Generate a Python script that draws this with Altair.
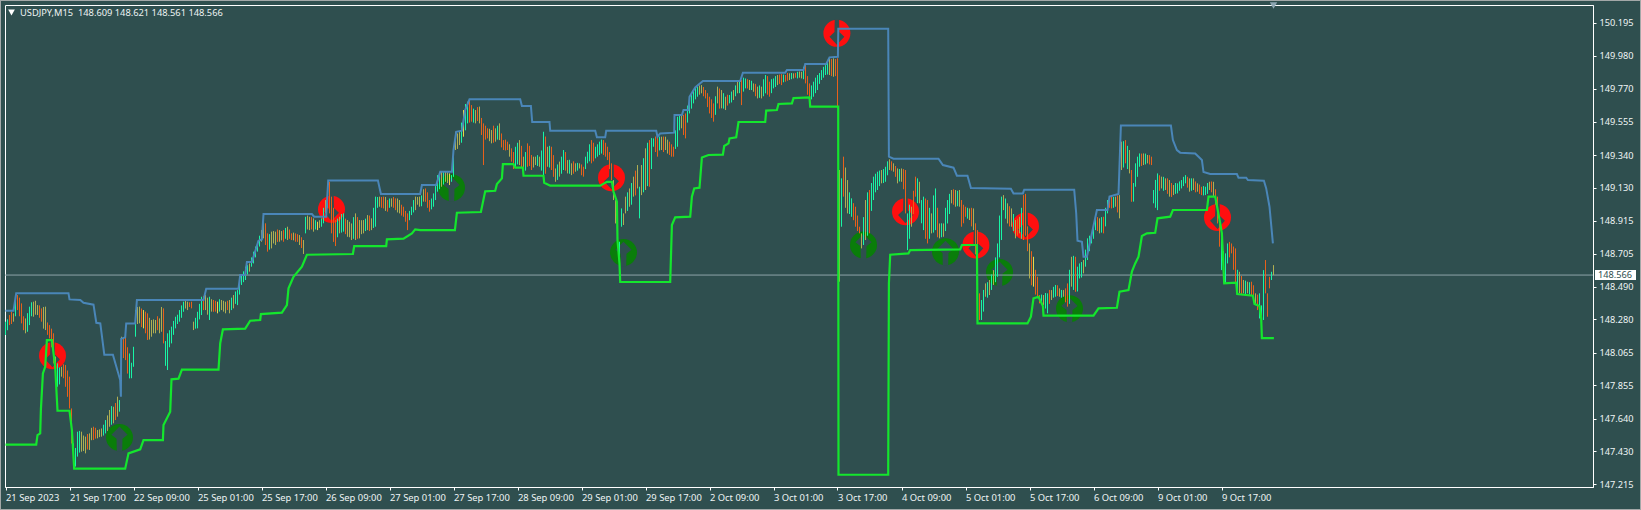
import altair as alt
import pandas as pd

BG = "#2f4f4f"

time_ticks = [0, 32, 64, 96, 128, 160, 192, 224, 256, 288, 320, 352, 384, 416, 448, 480, 512, 544, 576, 608]
time_labels = ["21 Sep 2023", "21 Sep 17:00", "22 Sep 09:00", "25 Sep 01:00", "25 Sep 17:00", "26 Sep 09:00",
               "27 Sep 01:00", "27 Sep 17:00", "28 Sep 09:00", "29 Sep 01:00", "29 Sep 17:00", "2 Oct 09:00",
               "3 Oct 01:00", "3 Oct 17:00", "4 Oct 09:00", "5 Oct 01:00", "5 Oct 17:00", "6 Oct 09:00",
               "9 Oct 01:00", "9 Oct 17:00"]
price_ticks = [150.195, 149.98, 149.77, 149.555, 149.34, 149.13, 148.915, 148.705, 148.49, 148.28,
               148.065, 147.855, 147.64, 147.43, 147.215]
last_price = 148.566

bar_index = [
    0, 2, 4, 6, 8, 10, 12, 14, 16, 18,
    20, 22, 24, 26, 28, 30, 32, 33, 34, 36,
    38, 40, 42, 44, 46, 48, 50, 52, 54, 56,
    57, 58, 60, 62, 64, 65, 67, 69, 71, 73,
    75, 77, 79, 81, 83, 85, 87, 89, 91, 93,
    94, 96, 98, 100, 102, 104, 106, 108, 110, 112,
    114, 116, 118, 120, 122, 124, 126, 128, 129, 131,
    133, 135, 137, 139, 141, 143, 145, 147, 149, 150,
    152, 154, 156, 158, 160, 162, 163, 165, 167, 169,
    171, 173, 175, 177, 179, 181, 183, 185, 187, 189,
    191, 193, 195, 197, 199, 201, 203, 205, 207, 210,
    212, 214, 216, 218, 220, 222, 223, 225, 227, 229,
    231, 233, 235, 237, 239, 241, 243, 245, 247, 249,
    251, 253, 255, 257, 259, 261, 263, 265, 267, 269,
    271, 273, 275, 277, 279, 281, 283, 285, 287, 289,
    291, 293, 295, 297, 299, 301, 303, 304, 305, 306,
    307, 308, 309, 310, 312, 314, 316, 317, 318, 320,
    322, 324, 326, 328, 330, 332, 334, 336, 338, 340,
    342, 344, 346, 348, 350, 352, 354, 356, 358, 360,
    362, 364, 366, 368, 370, 372, 374, 376, 378, 380,
    382, 384, 386, 388, 390, 392, 394, 396, 398, 400,
    402, 404, 406, 408, 410, 412, 414, 416, 417, 418,
    419, 421, 423, 425, 427, 428, 430, 432, 434, 436,
    438, 440, 442, 444, 446, 448, 450, 451, 453, 455,
    457, 459, 461, 463, 465, 467, 469, 471, 473, 475,
    477, 478, 480, 482, 484, 486, 487, 488, 490, 492,
    494, 496, 498, 499, 501, 503, 505, 507, 509, 512,
    514, 516, 517, 519, 521, 523, 525, 527, 529, 531,
    533, 535, 537, 539, 541, 543, 545, 547, 549, 551,
    553, 555, 557, 558, 560, 562, 563, 565, 567, 569,
    571, 573, 574, 576, 578, 580, 582, 584, 586, 588,
    590, 592, 594, 596, 598, 600, 602, 604, 606, 607,
    608, 610, 611, 613, 615, 617, 619, 621, 623, 625,
    627, 629, 630, 631, 632, 633, 634,
]
bar_high = [
    148.265, 148.308, 148.319, 148.437, 148.383, 148.286, 148.362, 148.394, 148.372, 148.351,
    148.362, 148.243, 148.19, 147.996, 147.974, 147.985, 147.91, 147.705, 147.479, 147.555,
    147.555, 147.523, 147.544, 147.587, 147.566, 147.576, 147.63, 147.695, 147.716, 147.781,
    147.759, 148.168, 148.168, 148.06, 148.103, 148.34, 148.362, 148.34, 148.319, 148.276,
    148.276, 148.286, 148.351, 148.19, 148.233, 148.297, 148.34, 148.394, 148.394, 148.394,
    148.265, 148.329, 148.426, 148.437, 148.426, 148.405, 148.394, 148.405, 148.394, 148.405,
    148.437, 148.469, 148.566, 148.62, 148.641, 148.717, 148.781, 148.856, 148.932, 148.835,
    148.846, 148.846, 148.856, 148.856, 148.878, 148.835, 148.835, 148.824, 148.792, 148.942,
    148.942, 148.932, 148.91, 148.932, 149.05, 149.168, 149.072, 148.921, 148.942, 148.964,
    148.921, 148.899, 148.964, 148.921, 148.921, 148.953, 148.932, 149.072, 149.072, 149.072,
    149.05, 149.061, 149.061, 149.05, 149.007, 148.964, 149.007, 149.072, 149.072, 149.125,
    149.05, 149.093, 149.211, 149.233, 149.233, 149.222, 149.211, 149.491, 149.491, 149.631,
    149.685, 149.663, 149.631, 149.653, 149.545, 149.513, 149.502, 149.513, 149.545, 149.437,
    149.427, 149.384, 149.394, 149.437, 149.33, 149.416, 149.341, 149.33, 149.33, 149.491,
    149.394, 149.394, 149.254, 149.298, 149.373, 149.308, 149.287, 149.287, 149.287, 149.265,
    149.362, 149.437, 149.394, 149.427, 149.437, 149.394, 149.287, 149.179, 149.05, 148.899,
    148.781, 148.996, 148.964, 149.072, 149.125, 149.201, 149.276, 149.136, 149.276, 149.384,
    149.437, 149.448, 149.469, 149.459, 149.459, 149.427, 149.394, 149.588, 149.599, 149.609,
    149.696, 149.76, 149.782, 149.792, 149.76, 149.717, 149.674, 149.782, 149.76, 149.717,
    149.728, 149.76, 149.814, 149.825, 149.835, 149.825, 149.803, 149.782, 149.782, 149.857,
    149.814, 149.835, 149.857, 149.863, 149.857, 149.868, 149.868, 149.878, 149.878, 149.921,
    149.803, 149.814, 149.857, 149.889, 149.921, 149.965, 149.965, 149.965, 149.244, 149.19,
    149.33, 149.179, 149.061, 149.007, 148.878, 148.835, 149.05, 149.115, 149.201, 149.233,
    149.244, 149.265, 149.313, 149.287, 149.254, 149.254, 149.244, 148.964, 149.007, 149.201,
    149.168, 149.072, 149.05, 148.964, 149.125, 148.899, 148.899, 149.05, 149.115, 149.115,
    149.115, 149.05, 149.007, 148.996, 148.996, 148.856, 148.448, 148.405, 148.512, 148.534,
    148.598, 148.77, 149.072, 149.082, 149.029, 148.996, 148.921, 148.942, 149.082, 148.77,
    148.684, 148.555, 148.437, 148.437, 148.448, 148.469, 148.502, 148.48, 148.469, 148.512,
    148.684, 148.684, 148.641, 148.663, 148.803, 148.835, 148.942, 148.932, 148.942, 149.05,
    149.072, 149.072, 149.082, 149.427, 149.437, 149.373, 149.244, 149.287, 149.351, 149.351,
    149.341, 149.33, 149.115, 149.222, 149.201, 149.19, 149.179, 149.147, 149.158, 149.179,
    149.211, 149.19, 149.19, 149.158, 149.136, 149.136, 149.168, 149.168, 149.072, 148.899,
    148.835, 148.706, 148.77, 148.77, 148.738, 148.587, 148.534, 148.523, 148.523, 148.448,
    148.448, 148.598, 148.663, 148.448, 148.555, 148.587, 148.63,
]
bar_low = [
    148.179, 148.243, 148.265, 148.340, 148.254, 148.19, 148.243, 148.297, 148.308, 148.265,
    148.211, 148.157, 147.996, 147.845, 147.91, 147.845, 147.705, 147.479, 147.318, 147.394,
    147.426, 147.415, 147.437, 147.501, 147.512, 147.523, 147.544, 147.587, 147.609, 147.652,
    147.684, 147.974, 148.017, 147.899, 147.974, 148.168, 148.254, 148.222, 148.147, 148.168,
    148.19, 148.19, 148.125, 147.953, 148.125, 148.222, 148.265, 148.329, 148.34, 148.351,
    148.211, 148.222, 148.308, 148.34, 148.276, 148.329, 148.319, 148.34, 148.319, 148.319,
    148.351, 148.372, 148.502, 148.534, 148.588, 148.641, 148.717, 148.781, 148.803, 148.717,
    148.738, 148.76, 148.781, 148.781, 148.792, 148.792, 148.781, 148.76, 148.702, 148.835,
    148.856, 148.846, 148.856, 148.878, 148.964, 148.964, 148.835, 148.753, 148.835, 148.846,
    148.813, 148.792, 148.792, 148.803, 148.835, 148.856, 148.856, 148.878, 149.007, 148.996,
    148.975, 149.007, 148.985, 148.964, 148.942, 148.856, 148.953, 148.985, 149.007, 149.039,
    148.975, 149.007, 149.104, 149.136, 149.168, 149.147, 149.168, 149.373, 149.405, 149.459,
    149.545, 149.556, 149.545, 149.545, 149.276, 149.448, 149.416, 149.427, 149.437, 149.373,
    149.373, 149.298, 149.265, 149.276, 149.244, 149.265, 149.244, 149.276, 149.265, 149.179,
    149.265, 149.244, 149.168, 149.201, 149.244, 149.222, 149.211, 149.233, 149.254, 149.201,
    149.287, 149.287, 149.319, 149.341, 149.341, 149.308, 149.179, 149.05, 148.899, 148.792,
    148.641, 148.878, 148.889, 148.964, 149.007, 149.072, 149.125, 148.932, 149.082, 149.115,
    149.136, 149.394, 149.33, 149.373, 149.373, 149.341, 149.33, 149.394, 149.513, 149.448,
    149.609, 149.674, 149.717, 149.739, 149.706, 149.609, 149.556, 149.674, 149.642, 149.631,
    149.674, 149.696, 149.739, 149.663, 149.771, 149.76, 149.749, 149.706, 149.706, 149.739,
    149.717, 149.771, 149.792, 149.792, 149.814, 149.825, 149.835, 149.835, 149.835, 149.803,
    149.706, 149.717, 149.76, 149.825, 149.857, 149.857, 149.846, 149.653, 148.523, 148.878,
    149.072, 148.964, 148.942, 148.878, 148.835, 148.738, 148.792, 148.835, 149.05, 149.115,
    149.158, 149.168, 149.244, 149.233, 149.158, 149.168, 148.964, 148.727, 148.878, 149.072,
    149.029, 148.856, 148.77, 148.835, 148.856, 148.803, 148.813, 148.899, 149.029, 149.007,
    149.007, 148.878, 148.942, 148.921, 148.856, 148.448, 148.276, 148.276, 148.426, 148.437,
    148.502, 148.555, 148.792, 148.985, 148.899, 148.878, 148.803, 148.835, 148.792, 148.544,
    148.491, 148.426, 148.383, 148.372, 148.319, 148.405, 148.426, 148.426, 148.426, 148.362,
    148.491, 148.458, 148.544, 148.577, 148.663, 148.77, 148.856, 148.835, 148.835, 148.964,
    148.996, 149.007, 148.932, 149.244, 149.287, 149.222, 149.039, 149.136, 149.265, 149.276,
    149.287, 149.276, 149.029, 148.985, 149.125, 149.115, 149.072, 149.082, 149.093, 149.125,
    149.158, 149.104, 149.115, 149.104, 149.082, 149.082, 149.115, 149.072, 148.899, 148.749,
    148.598, 148.512, 148.641, 148.706, 148.512, 148.448, 148.448, 148.448, 148.437, 148.372,
    148.286, 148.276, 148.448, 148.297, 148.48, 148.534, 148.566,
]
bar_kind = list(
    "udmddmummd" "mddumddduu" "mmmdmmummm" "umduuumydm" "mmduuuuumd" "muumudymmm" "muuumuummd"
    "mmmdmddmmu" "mmyumdddmu" "mmmmmmmumd" "dmdmddummd" "duummyummy" "udmmddmmmd" "ddummddmmu"
    "mdmmummmmd" "uduudddmmm" "uummmmmumm" "dudmmddumd" "uuumdddmmm" "ummdummmmu" "dumddmmumd"
    "duuuummdmu" "dmuddmmduu" "mummmmdumd" "mudmummumm" "mddmmddumm" "muummmmmdm" "yddmumummd"
    "mdumuuumdu" "dmmmdmduum" "mduummmmuu" "ummmdummdd" "uuuddmmmdm" "uudddum"
)

fill_index = [
    1, 3, 5, 7, 9, 11, 13, 15, 17, 19,
    21, 23, 25, 27, 29, 31, 35, 37, 39, 41,
    43, 45, 47, 49, 51, 53, 55, 59, 61, 63,
    66, 68, 70, 72, 74, 76, 78, 80, 82, 84,
    86, 88, 90, 92, 95, 97, 99, 101, 103, 105,
    107, 109, 111, 113, 115, 117, 119, 121, 123, 125,
    127, 130, 132, 134, 136, 138, 140, 142, 144, 146,
    148, 151, 153, 155, 157, 159, 161, 164, 166, 168,
    170, 172, 174, 176, 178, 180, 182, 184, 186, 188,
    190, 192, 194, 196, 198, 200, 202, 204, 206, 208,
    209, 211, 213, 215, 217, 219, 221, 224, 226, 228,
    230, 232, 234, 236, 238, 240, 242, 244, 246, 248,
    250, 252, 254, 256, 258, 260, 262, 264, 266, 268,
    270, 272, 274, 276, 278, 280, 282, 284, 286, 288,
    290, 292, 294, 296, 298, 300, 302, 311, 313, 315,
    319, 321, 323, 325, 327, 329, 331, 333, 335, 337,
    339, 341, 343, 345, 347, 349, 351, 353, 355, 357,
    359, 361, 363, 365, 367, 369, 371, 373, 375, 377,
    379, 381, 383, 385, 387, 389, 391, 393, 395, 397,
    399, 401, 403, 405, 407, 409, 411, 413, 415, 420,
    422, 424, 426, 429, 431, 433, 435, 437, 439, 441,
    443, 445, 447, 449, 452, 454, 456, 458, 460, 462,
    464, 466, 468, 470, 472, 474, 476, 479, 481, 483,
    485, 489, 491, 493, 495, 497, 500, 502, 504, 506,
    508, 510, 511, 513, 515, 518, 520, 522, 524, 526,
    528, 530, 532, 534, 536, 538, 540, 542, 544, 546,
    548, 550, 552, 554, 556, 559, 561, 564, 566, 568,
    570, 572, 575, 577, 579, 581, 583, 585, 587, 589,
    591, 593, 595, 597, 599, 601, 603, 605, 609, 612,
    614, 616, 618, 620, 622, 624, 626, 628,
]
fill_high = [
    148.28, 148.33, 148.40, 148.42, 148.30, 148.32, 148.39, 148.40, 148.37, 148.36,
    148.26, 148.22, 148.04, 147.97, 147.99, 147.95, 147.45, 147.56, 147.53, 147.54,
    147.58, 147.58, 147.57, 147.60, 147.66, 147.72, 147.74, 148.16, 148.10, 148.00,
    148.36, 148.35, 148.33, 148.29, 148.28, 148.30, 148.36, 148.14, 148.21, 148.27,
    148.31, 148.37, 148.40, 148.39, 148.29, 148.38, 148.43, 148.42, 148.41, 148.40,
    148.41, 148.40, 148.40, 148.42, 148.46, 148.54, 148.59, 148.63, 148.68, 148.75,
    148.82, 148.90, 148.83, 148.85, 148.86, 148.85, 148.87, 148.86, 148.84, 148.83,
    148.81, 148.95, 148.94, 148.92, 148.92, 149.00, 149.15, 149.00, 148.93, 148.96,
    148.93, 148.91, 148.94, 148.94, 148.92, 148.93, 148.95, 149.00, 149.07, 149.07,
    149.07, 149.06, 149.07, 149.06, 149.02, 148.98, 148.98, 149.05, 149.07, 149.08,
    149.12, 149.10, 149.06, 149.14, 149.22, 149.23, 149.23, 149.37, 149.48, 149.55,
    149.67, 149.69, 149.64, 149.65, 149.58, 149.53, 149.51, 149.53, 149.53, 149.48,
    149.44, 149.41, 149.36, 149.42, 149.40, 149.36, 149.40, 149.33, 149.34, 149.37,
    149.46, 149.40, 149.34, 149.28, 149.33, 149.36, 149.31, 149.30, 149.29, 149.28,
    149.33, 149.41, 149.42, 149.41, 149.44, 149.42, 149.36, 149.10, 149.16, 149.24,
    149.32, 149.42, 149.45, 149.46, 149.46, 149.46, 149.44, 149.41, 149.50, 149.60,
    149.60, 149.66, 149.73, 149.78, 149.79, 149.78, 149.74, 149.70, 149.72, 149.77,
    149.74, 149.73, 149.75, 149.79, 149.82, 149.84, 149.83, 149.82, 149.80, 149.79,
    149.83, 149.85, 149.83, 149.85, 149.86, 149.86, 149.87, 149.87, 149.87, 149.88,
    149.91, 149.85, 149.79, 149.84, 149.87, 149.91, 149.94, 149.96, 149.96, 149.26,
    149.10, 149.03, 148.95, 148.94, 149.10, 149.16, 149.22, 149.24, 149.25, 149.30,
    149.30, 149.27, 149.25, 149.25, 149.02, 149.11, 149.19, 149.05, 149.06, 149.00,
    149.08, 149.00, 148.90, 149.00, 149.09, 149.12, 149.11, 149.02, 149.00, 149.00,
    148.90, 148.47, 148.52, 148.57, 148.68, 148.95, 149.06, 149.01, 148.96, 148.93,
    149.00, 149.09, 148.88, 148.72, 148.60, 148.44, 148.45, 148.47, 148.49, 148.50,
    148.47, 148.48, 148.60, 148.69, 148.62, 148.65, 148.73, 148.82, 148.90, 148.94,
    148.94, 149.00, 149.07, 149.07, 149.08, 149.43, 149.40, 149.16, 149.33, 149.35,
    149.35, 149.34, 149.18, 149.21, 149.20, 149.19, 149.16, 149.16, 149.17, 149.20,
    149.20, 149.19, 149.17, 149.15, 149.14, 149.16, 149.17, 149.12, 148.72, 148.78,
    148.75, 148.60, 148.56, 148.53, 148.52, 148.50, 148.44, 148.37,
]
fill_low = [
    148.21, 148.25, 148.30, 148.30, 148.21, 148.20, 148.30, 148.31, 148.29, 148.22,
    148.18, 148.10, 147.90, 147.86, 147.90, 147.78, 147.33, 147.42, 147.43, 147.44,
    147.50, 147.51, 147.52, 147.53, 147.56, 147.60, 147.63, 148.03, 147.93, 147.90,
    148.25, 148.23, 148.19, 148.15, 148.19, 148.21, 148.20, 147.98, 148.10, 148.18,
    148.25, 148.29, 148.35, 148.36, 148.22, 148.28, 148.34, 148.31, 148.33, 148.33,
    148.33, 148.33, 148.34, 148.34, 148.38, 148.44, 148.52, 148.57, 148.62, 148.68,
    148.75, 148.76, 148.73, 148.77, 148.78, 148.79, 148.80, 148.80, 148.79, 148.78,
    148.74, 148.86, 148.86, 148.86, 148.87, 148.90, 149.00, 148.78, 148.81, 148.84,
    148.83, 148.81, 148.80, 148.80, 148.83, 148.85, 148.85, 148.87, 149.00, 149.00,
    148.98, 149.00, 149.00, 148.97, 148.95, 148.91, 148.92, 148.97, 149.02, 149.01,
    149.04, 149.00, 148.99, 149.05, 149.12, 149.15, 149.16, 149.20, 149.38, 149.42,
    149.50, 149.55, 149.55, 149.56, 149.47, 149.44, 149.43, 149.42, 149.44, 149.39,
    149.37, 149.33, 149.25, 149.28, 149.26, 149.24, 149.27, 149.26, 149.27, 149.24,
    149.22, 149.26, 149.20, 149.18, 149.22, 149.24, 149.22, 149.22, 149.24, 149.21,
    149.25, 149.30, 149.30, 149.33, 149.35, 149.33, 149.25, 148.98, 149.02, 149.08,
    149.10, 149.14, 149.25, 149.36, 149.37, 149.36, 149.35, 149.33, 149.38, 149.50,
    149.47, 149.55, 149.64, 149.70, 149.73, 149.72, 149.65, 149.58, 149.60, 149.64,
    149.64, 149.66, 149.68, 149.72, 149.74, 149.75, 149.77, 149.76, 149.72, 149.71,
    149.72, 149.73, 149.74, 149.78, 149.80, 149.81, 149.82, 149.83, 149.84, 149.84,
    149.83, 149.73, 149.70, 149.74, 149.80, 149.84, 149.86, 149.85, 149.85, 149.00,
    148.96, 148.92, 148.85, 148.76, 148.82, 148.98, 149.10, 149.14, 149.16, 149.21,
    149.24, 149.20, 149.17, 149.12, 148.80, 148.96, 149.03, 148.90, 148.80, 148.80,
    148.84, 148.81, 148.81, 148.85, 148.96, 149.02, 149.01, 148.90, 148.93, 148.88,
    148.70, 148.33, 148.42, 148.47, 148.52, 148.68, 148.93, 148.88, 148.85, 148.82,
    148.80, 148.82, 148.72, 148.50, 148.44, 148.38, 148.35, 148.38, 148.42, 148.43,
    148.42, 148.39, 148.38, 148.47, 148.46, 148.55, 148.62, 148.72, 148.80, 148.85,
    148.84, 148.88, 149.00, 149.00, 148.97, 149.26, 149.25, 149.04, 149.20, 149.27,
    149.28, 149.28, 149.00, 149.11, 149.11, 149.09, 149.07, 149.09, 149.11, 149.14,
    149.13, 149.11, 149.10, 149.09, 149.08, 149.09, 149.10, 149.02, 148.52, 148.68,
    148.60, 148.45, 148.44, 148.44, 148.44, 148.39, 148.34, 148.27,
]
fill_kind = list(
    "ududduumdm" "ddmudduumd" "mdmumudddu" "mddmmdmuuu" "uumduudmmd" "umduuuuuuu" "udumdmudmd"
    "dmdumuuduu" "dmudmuduud" "mudmdduumu" "mduuuumumu" "ududddmdud" "dmdududmuu" "duduududud"
    "uuduudduud" "uuududmduu" "duuumdddud" "uduuuududu" "uduudududm" "uduuuuuddm" "udduuuuuuu"
    "ddududuudu" "uduuududud" "duuuuuudud" "udddduudud" "uduuuuuuud" "uududuuuud" "udududduuu"
    "dudduuddud" "duduuddu"
)

upper_index = [0, 4, 5.35, 31.5, 32, 37.4, 39, 44, 45.4, 47.4, 49.4, 53.7, 57.35, 57.7, 57.85, 59.85, 60.35, 64.85,
               65.7, 99, 100.35, 116.5, 117.35, 119.85, 120.7, 123.2, 126.5, 128.2, 129, 153.2, 154.35, 160.35,
               161.35, 186.2, 187.7, 207.35, 208.2, 215.35, 217.35, 223.2, 224, 225.35, 228.2, 229.85, 232, 257.35,
               258.2, 262.7, 263.35, 272, 272.35, 294.85, 295.7, 299.85, 300.35, 325.35, 326, 327.35, 334.35, 334.5,
               338.2, 339, 341.5, 342, 344.85, 348.7, 367.35, 368.7, 389.85, 390.7, 399, 399.85, 410.35, 412, 416.2,
               416.4, 441.35, 441.7, 444, 466.5, 468.7, 474, 475.7, 481, 482.7, 502.7, 504, 508.7, 509.35, 534.35,
               535.35, 536, 538.2, 539, 540.7, 545.7, 551, 552, 556.5, 557.7, 582.7, 583.7, 585.7, 587.35, 594.85,
               598.2, 599, 602.35, 615.7, 616.5, 620.35, 621.2, 629.2, 630.35, 632, 633.7]
upper_price = [148.336, 148.336, 148.448, 148.448, 148.409, 148.405, 148.387, 148.375, 148.258, 148.254, 148.052,
               148.052, 147.888, 147.781, 148.155, 148.164, 148.254, 148.254, 148.405, 148.405, 148.478, 148.478,
               148.566, 148.566, 148.65, 148.65, 148.788, 148.796, 148.96, 148.96, 148.943, 148.943, 149.177,
               149.177, 149.089, 149.089, 149.147, 149.147, 149.233, 149.233, 149.373, 149.491, 149.498, 149.631,
               149.70, 149.70, 149.657, 149.657, 149.554, 149.554, 149.498, 149.498, 149.455, 149.455, 149.498,
               149.498, 149.459, 149.48, 149.485, 149.599, 149.599, 149.631, 149.631, 149.717, 149.777, 149.818,
               149.818, 149.872, 149.872, 149.889, 149.889, 149.928, 149.928, 149.971, 149.975, 150.156, 150.156,
               149.33, 149.317, 149.317, 149.276, 149.259, 149.207, 149.207, 149.128, 149.123, 149.093, 149.093,
               149.117, 149.117, 148.964, 148.788, 148.781, 148.684, 148.684, 148.986, 148.986, 149.072, 149.089,
               149.532, 149.532, 149.437, 149.373, 149.356, 149.351, 149.308, 149.231, 149.218, 149.218, 149.194,
               149.194, 149.179, 149.175, 149.125, 149.007, 148.77]

lower_index = [0, 15.35, 16, 17.35, 17.7, 18.7, 19.85, 20.7, 23.2, 24.85, 26, 32, 33.2, 34.35, 59.85, 61.5, 67.35, 69,
               78.7, 79, 82.35, 83, 86.5, 88.2, 106.5, 107.35, 108.7, 119.85, 122.35, 127.35, 127.7, 138.2, 140.7,
               141.5, 144, 148.2, 150.7, 173.7, 174.35, 190.35, 190.7, 199, 203.2, 204.85, 207.35, 224.7, 225.7,
               237.7, 239.85, 244.85, 245.7, 248.2, 248.7, 254, 254.85, 258.7, 259, 269, 269.35, 272.35, 297.35,
               300.7, 303.2, 304, 305.7, 306, 307, 307.35, 332.35, 333.2, 334.85, 342.35, 343.2, 344.35, 347, 348.2,
               351.5, 358.7, 359.35, 361.5, 362, 365.35, 366.5, 379.85, 380.35, 385.7, 386.5, 393.2, 394, 402,
               402.35, 416.35, 416.5, 441.35, 441.7, 442.35, 451.5, 452.35, 477.35, 478.2, 485.7, 486, 511, 512.7,
               514, 516.5, 518.7, 519, 544, 546.5, 555.7, 557, 561.5, 563.2, 564.85, 566.5, 568.2, 570.7, 574.85,
               576, 582.35, 583.7, 600.7, 601.5, 604.85, 607.35, 608.2, 609.35, 615.35, 615.85, 623.7, 624.5, 627,
               627.85, 628.2, 634.2]
lower_price = [147.471, 147.471, 147.533, 147.544, 147.699, 147.931, 147.974, 148.146, 148.146, 147.974, 147.69,
               147.69, 147.566, 147.316, 147.316, 147.415, 147.441, 147.501, 147.501, 147.598, 147.684, 147.893,
               147.897, 147.955, 147.955, 148.125, 148.215, 148.22, 148.271, 148.276, 148.314, 148.323, 148.372,
               148.48, 148.555, 148.62, 148.697, 148.702, 148.753, 148.753, 148.796, 148.801, 148.835, 148.861,
               148.856, 148.856, 148.968, 148.973, 149.106, 149.11, 149.153, 149.19, 149.282, 149.282, 149.259,
               149.259, 149.207, 149.207, 149.162, 149.143, 149.143, 149.168, 149.168, 149.104, 149.039, 148.792,
               148.641, 148.521, 148.521, 148.889, 148.938, 148.943, 149.072, 149.125, 149.13, 149.325, 149.341,
               149.343, 149.399, 149.416, 149.448, 149.455, 149.554, 149.554, 149.627, 149.631, 149.67, 149.674,
               149.708, 149.713, 149.653, 149.653, 147.277, 147.277, 148.512, 148.697, 148.706, 148.727, 148.732,
               148.76, 148.76, 148.254, 148.254, 148.297, 148.415, 148.426, 148.366, 148.304, 148.304, 148.351,
               148.355, 148.458, 148.469, 148.588, 148.641, 148.684, 148.818, 148.835, 148.839, 148.932, 148.943,
               148.986, 148.986, 149.072, 149.072, 148.90, 148.835, 148.512, 148.517, 148.443, 148.433, 148.379,
               148.366, 148.286, 148.159, 148.159]

sell_index = [23.5, 163, 303, 415.7, 450, 485.2, 510, 606]
sell_price = [148.045, 148.99, 149.194, 150.126, 148.975, 148.76, 148.882, 148.938]
buy_index = [57, 223, 309, 429, 470, 497, 532]
buy_price = [147.518, 149.13, 148.712, 148.76, 148.717, 148.583, 148.349]

bars = pd.DataFrame({"i": bar_index + fill_index, "high": bar_high + fill_high, "low": bar_low + fill_low,
                     "kind": bar_kind + fill_kind})
upper = pd.DataFrame({"i": upper_index, "p": upper_price})
lower = pd.DataFrame({"i": lower_index, "p": lower_price})
sell = pd.DataFrame({"i": sell_index, "p": sell_price})
buy = pd.DataFrame({"i": buy_index, "p": buy_price})

label_map = "{" + ",".join(f"'{t}':'{l}'" for t, l in zip(time_ticks, time_labels)) + "}"
x_scale = alt.Scale(domain=[-0.25, 793.75], nice=False, zero=False)
y_scale = alt.Scale(domain=[147.198, 150.309], nice=False, zero=False)
x_axis = alt.Axis(
    values=time_ticks, orient="bottom", title=None, grid=False, labelExpr=f"{label_map}[datum.value]",
    labelAlign="left", labelColor="#eef4f4", labelFont="Noto Sans", labelFontSize=9.4, labelPadding=3,
    labelOverlap=False, labelFlush=False, tickColor="#ffffff", tickSize=3, domainColor="#ffffff")
y_axis = alt.Axis(
    values=price_ticks, orient="right", title=None, grid=False, format=".3f", labelColor="#eef4f4",
    labelFont="Noto Sans", labelFontSize=9.2, labelPadding=3, labelOverlap=False, labelFlush=False,
    tickColor="#ffffff", tickSize=3, domainColor="#ffffff")
x_enc = alt.X("i:Q", scale=x_scale, axis=x_axis)
y_enc = alt.Y("p:Q", scale=y_scale, axis=y_axis)

SELL_CUT = "M-0.16,-1.05L0.16,-1.05L0.18,-0.1L0.55,0.25L0,0.85L-0.55,0.25L-0.18,-0.1Z"
BUY_CUT = "M-0.2,1.05L0.2,1.05L0.22,0.1L0.6,-0.2L0,-0.8L-0.6,-0.2L-0.22,0.1Z"

def marker(df, color, cut):
    disc = alt.Chart(df).mark_point(shape="circle", filled=True, size=729, opacity=1, color=color).encode(x=x_enc, y=y_enc)
    notch = alt.Chart(df).mark_point(shape=cut, filled=True, size=729, opacity=1, color=BG).encode(x=x_enc, y=y_enc)
    return disc + notch

sell_marks = marker(sell, "#ff0f0f", SELL_CUT)
buy_marks = marker(buy, "#0a7d0a", BUY_CUT)

candles = alt.Chart(bars).mark_rule(strokeWidth=1).encode(
    x=x_enc,
    y=alt.Y("low:Q", scale=y_scale, axis=y_axis),
    y2="high:Q",
    color=alt.Color("kind:N", legend=None, scale=alt.Scale(
        domain=["u", "d", "m", "y"], range=["#18f5a5", "#e8601a", "#b0ae52", "#e8d84a"])),
)
upper_line = alt.Chart(upper).mark_line(color="#4a86b8", strokeWidth=2, order=False).encode(x=x_enc, y=y_enc)
lower_line = alt.Chart(lower).mark_line(color="#14e62d", strokeWidth=2.2, order=False).encode(x=x_enc, y=y_enc)

price_rule = alt.Chart(pd.DataFrame({"p": [last_price]})).mark_rule(color="#8fa5a9", strokeWidth=1).encode(y=y_enc)
price_box = alt.Chart(pd.DataFrame({"p": [last_price]})).mark_rule(color="#ffffff", strokeWidth=10).encode(
    x=alt.value(1590), x2=alt.value(1631), y=y_enc)
price_text = alt.Chart(pd.DataFrame({"p": [last_price]})).mark_text(
    text="148.566", color=BG, font="Noto Sans", fontSize=9.2, align="center", baseline="middle").encode(
    x=alt.value(1610), y=y_enc)
head_text = alt.Chart(pd.DataFrame({"t": ["USDJPY,M15\u00a0\u00a0148.609 148.621 148.561 148.566"]})).mark_text(
    color="#eef4f4", font="Noto Sans", fontSize=9.3, align="left", baseline="middle").encode(
    text="t:N", x=alt.value(15), y=alt.value(7.5))
head_arrow = alt.Chart(pd.DataFrame({"t": ["menu"]})).mark_point(
    shape="triangle-down", filled=True, size=45, color="#ffffff", opacity=1).encode(x=alt.value(6.5), y=alt.value(7.5))
shift_mark = alt.Chart(pd.DataFrame({"i": [634]})).mark_point(
    shape="triangle-down", filled=True, size=55, color="#8ea6b2", opacity=1).encode(x=x_enc, y=alt.value(0.5))

chart = alt.layer(
    sell_marks, buy_marks, price_rule, candles, upper_line, lower_line,
    price_box, price_text, head_arrow, head_text, shift_mark,
).properties(
    width=1588, height=482, background=BG,
    padding={"left": 5, "top": 5, "right": 48, "bottom": 23},
    autosize=alt.AutoSizeParams(type="none"),
).configure_view(stroke="#ffffff", strokeWidth=1)

chart.save("out.html", embed_options={
    "renderer": "svg", "actions": False,
    "defaultStyle": "html,body{margin:0;padding:0;background:#2f4f4f;overflow:hidden}"
                    "svg{display:block;outline:1.5px solid #a3a8a8;outline-offset:-1.5px}",
})
